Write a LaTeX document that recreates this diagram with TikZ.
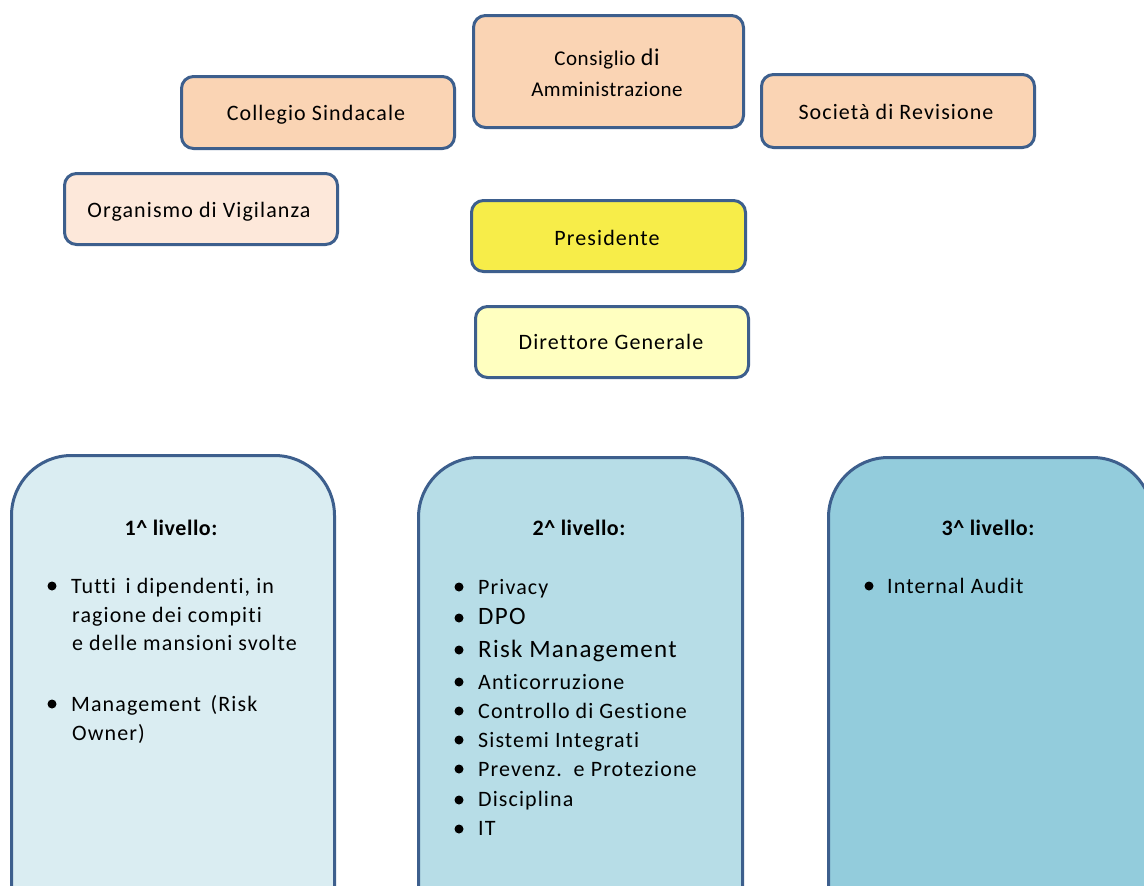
\documentclass[tikz,border=0pt]{standalone}
\usepackage{fontspec}
\setmainfont{Carlito}[LetterSpace=5, Ligatures=NoCommon]
\newfontfamily\tightfont{Carlito}[LetterSpace=2.5, Ligatures=NoCommon]
\definecolor{edge}{HTML}{3D5F8D}
\definecolor{peach}{HTML}{FAD4B4}
\definecolor{peachlight}{HTML}{FDE8DA}
\definecolor{yellowstrong}{HTML}{F7ED49}
\definecolor{yellowlight}{HTML}{FFFFC0}
\definecolor{levelone}{HTML}{DAEDF2}
\definecolor{leveltwo}{HTML}{B7DDE7}
\definecolor{levelthree}{HTML}{93CCDC}
\tikzset{
  orgbox/.style={draw=edge, line width=3pt, rounded corners=12pt, anchor=north west, inner sep=0pt},
  levelbox/.style={draw=edge, line width=3pt, rounded corners=60pt, anchor=north west, inner sep=0pt},
  boxtext/.style={font=\fontsize{22}{26}\selectfont, anchor=mid, yshift=-5pt},
  cdatext/.style={font=\tightfont\fontsize{21}{26}\selectfont, anchor=mid, yshift=-5pt},
  leveltitle/.style={font=\tightfont\bfseries\fontsize{22}{26}\selectfont, anchor=mid, yshift=-5pt},
  item/.style={font=\fontsize{22}{26}\selectfont, anchor=mid west, inner sep=0pt, yshift=-5pt},
  bigitem/.style={font=\fontsize{25}{30}\selectfont, anchor=mid west, inner sep=0pt, yshift=-5pt},
  dot/.style={circle, fill=black, minimum size=9pt, inner sep=0pt}
}
\begin{document}
\begin{tikzpicture}[x=1pt, y=-1pt]
\useasboundingbox (0,0) rectangle (1144,886);
\clip (0,0) rectangle (1144,886);
\fill[white] (0,0) rectangle (1144,886);

% governance bodies
\node[orgbox, fill=peach, minimum width=270pt, minimum height=112pt] (cda) at (472,14) {};
\node[cdatext] (cdaA) at (607,58) {Consiglio {\fontsize{24}{26}\selectfont di}};
\node[cdatext] (cdaB) at (607,89) {Amministrazione};

\node[orgbox, fill=peach, minimum width=273pt, minimum height=72pt] (cs) at (180,75) {};
\node[boxtext] (csT) at (316,113) {Collegio Sindacale};

\node[orgbox, fill=peach, minimum width=273pt, minimum height=73pt] (sr) at (760,73) {};
\node[boxtext] (srT) at (896,112) {Società di Revisione};

\node[orgbox, fill=peachlight, minimum width=273pt, minimum height=71pt] (odv) at (63,172) {};
\node[boxtext] (odvT) at (199,210) {Organismo di Vigilanza};

\node[orgbox, fill=yellowstrong, minimum width=274pt, minimum height=71pt] (pres) at (470,199) {};
\node[boxtext] (presT) at (607,238) {Presidente};

\node[orgbox, fill=yellowlight, minimum width=273pt, minimum height=71pt] (dg) at (474,305) {};
\node[boxtext] (dgT) at (611,342) {Direttore Generale};

% control levels
\node[levelbox, fill=levelone, minimum width=323pt, minimum height=500pt] (l1) at (10,454) {};
\node[levelbox, fill=leveltwo, minimum width=324pt, minimum height=500pt] (l2) at (417,456) {};
\node[levelbox, fill=levelthree, minimum width=324pt, minimum height=500pt] (l3) at (827,456) {};

\node[leveltitle] (l1t) at (171,528) {1\string^ livello:};
\node[leveltitle] (l2t) at (579,528) {2\string^ livello:};
\node[leveltitle] (l3t) at (988,528) {3\string^ livello:};

% first level
\node[dot] (b11) at (52,586) {};
\node[item] (t11a) at (71,586) {Tutti\, i dipendenti, in};
\node[item] (t11b) at (72,615) {ragione dei compiti};
\node[item] (t11c) at (72,643) {e delle mansioni svolte};
\node[dot] (b12) at (52,704) {};
\node[item] (t12a) at (71,704) {Management\, (Risk};
\node[item] (t12b) at (72,733) {Owner)};

% second level
\node[dot] (b21) at (459,587) {};
\node[item] (t21) at (478,587) {Privacy};
\node[dot] (b22) at (459,618) {};
\node[bigitem] (t22) at (478,617) {DPO};
\node[dot] (b23) at (459,650) {};
\node[bigitem] (t23) at (478,650) {Risk Management};
\node[dot] (b24) at (459,682) {};
\node[item] (t24) at (478,682) {Anticorruzione};
\node[dot] (b25) at (459,711) {};
\node[item] (t25) at (478,711) {Controllo di Gestione};
\node[dot] (b26) at (459,740) {};
\node[item] (t26) at (478,740) {Sistemi Integrati};
\node[dot] (b27) at (459,769) {};
\node[item] (t27) at (478,769) {Prevenz.\, e Protezione};
\node[dot] (b28) at (459,800) {};
\node[item] (t28) at (478,799) {Disciplina};
\node[dot] (b29) at (459,829) {};
\node[item] (t29) at (478,828) {IT};

% third level
\node[dot] (b31) at (869,586) {};
\node[item] (t31) at (887,586) {Internal Audit};
\end{tikzpicture}
\end{document}
